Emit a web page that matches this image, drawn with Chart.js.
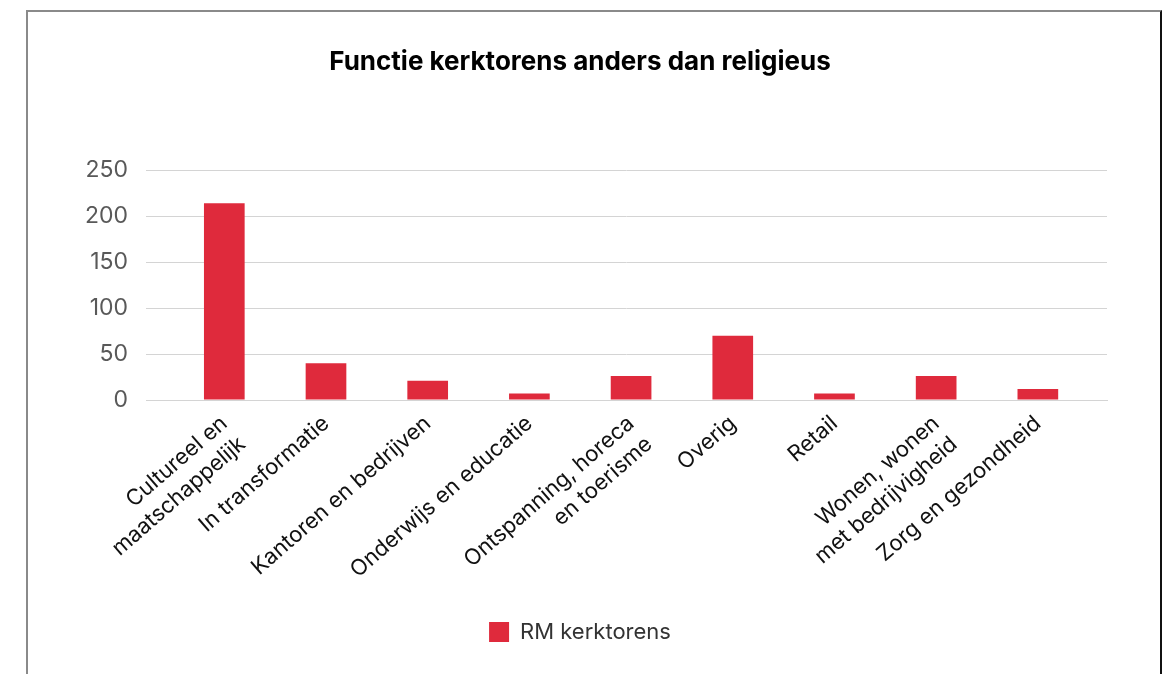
<!DOCTYPE html>
<html>
<head>
<meta charset="utf-8">
<script src="https://cdn.jsdelivr.net/npm/chart.js@4"></script>
<style>
  html, body { margin: 0; padding: 0; background: #fff; overflow: hidden; }
  .frame {
    position: absolute;
    left: 26px;
    top: 10px;
    width: 1132px;
    height: 700px;
    border-left: 2px solid #8a8a8a;
    border-top: 2px solid #8a8a8a;
    border-right: 2px solid #111;
  }
  canvas { display: block; }
</style>
</head>
<body>
<div class="frame">
  <canvas id="chart" width="1132" height="662"></canvas>
</div>
<script>
// categorieën en waarden
const categories = [
  ["Cultureel en", "maatschappelijk"],
  "In transformatie",
  "Kantoren en bedrijven",
  "Onderwijs en educatie",
  ["Ontspanning, horeca", "en toerisme"],
  "Overig",
  "Retail",
  ["Wonen, wonen", "met bedrijvigheid"],
  "Zorg en gezondheid",
];
const kerktorens = [214, 40, 21, 7, 26, 70, 7, 26, 12];
const seriesName = "RM kerktorens";
const chartTitle = "Functie kerktorens anders dan religieus";
const yTicks = [0, 50, 100, 150, 200, 250];

const barColor = "#df2a3c";

// x als lineaire as zodat de gridlijnen iets buiten de categorieën doorlopen
const points = kerktorens.map((v, i) => ({ x: i, y: v }));

const ctx = document.getElementById("chart").getContext("2d");
new Chart(ctx, {
  type: "bar",
  data: {
    datasets: [
      {
        label: seriesName,
        data: points,
        backgroundColor: barColor,
        borderWidth: 0,
        barPercentage: 0.4,
        categoryPercentage: 1,
      },
    ],
  },
  options: {
    responsive: false,
    animation: false,
    layout: {
      padding: { left: 0, right: 28, top: 0, bottom: 21 },
    },
    plugins: {
      title: {
        display: true,
        text: chartTitle,
        color: "#000",
        font: { family: "Inter", size: 26, weight: "bold" },
        padding: { top: 35, bottom: 92 },
      },
      legend: {
        position: "bottom",
        labels: {
          color: "#333",
          font: { family: "Inter", size: 22 },
          boxWidth: 20,
          boxHeight: 20,
          padding: 10,
        },
      },
      tooltip: { enabled: false },
    },
    scales: {
      y: {
        min: 0,
        max: 250,
        afterFit: (scale) => { scale.width = 118; },
        afterBuildTicks: (scale) => {
          scale.ticks = yTicks.map((v) => ({ value: v }));
        },
        border: { display: false },
        grid: { color: "#d4d4d4", drawTicks: false },
        ticks: {
          color: "#595959",
          padding: 18,
          font: { family: "Inter", size: 23 },
        },
      },
      yRight: {
        position: "right",
        afterFit: (scale) => { scale.width = 25; },
        border: { display: false },
        grid: { display: false, drawTicks: false },
        ticks: { display: false },
      },
      x: {
        type: "linear",
        min: -0.77,
        max: 8.68,
        offset: false,
        afterFit: (scale) => { scale.height = 211; },
        afterBuildTicks: (scale) => {
          scale.ticks = categories.map((c, i) => ({ value: i }));
        },
        border: { display: true, color: "#d4d4d4" },
        grid: { display: false, drawTicks: false },
        ticks: {
          color: "#111",
          autoSkip: false,
          minRotation: 41,
          maxRotation: 41,
          padding: 10,
          font: { family: "Inter", size: 22, lineHeight: 1.25 },
          callback: (value) => categories[value],
        },
      },
    },
  },
});
</script>
</body>
</html>
